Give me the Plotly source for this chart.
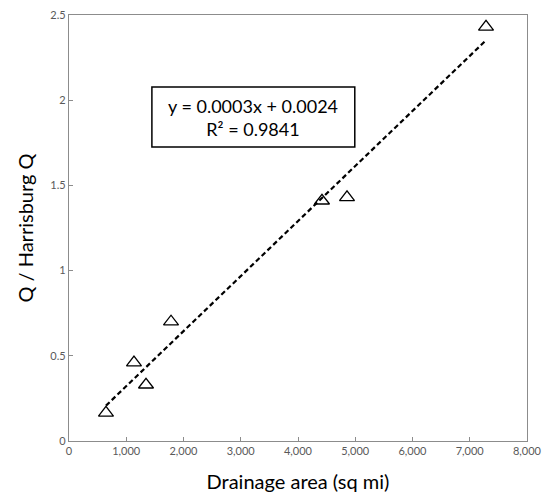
import numpy as np
import plotly.graph_objects as go

area = [646, 1135, 1345, 1782, 4419, 4856, 7284]
ratio = [0.165, 0.46, 0.33, 0.70, 1.41, 1.43, 2.43]
x_ticks = [0, 1000, 2000, 3000, 4000, 5000, 6000, 7000, 8000]
x_ticklabels = ["0", "1,000", "2,000", "3,000", "4,000", "5,000", "6,000", "7,000", "8,000"]
y_ticks = [0, 0.5, 1, 1.5, 2, 2.5]
y_ticklabels = ["0", "0.5", "1", "1.5", "2", "2.5"]
eq_text = "y = 0.0003x + 0.0024<br>R² = 0.9841"

slope, intercept = np.polyfit(area, ratio, 1)
fit_x = [min(area), max(area)]
fit_y = [slope * v + intercept for v in fit_x]

FONT = "Lato, Carlito, 'Open Sans', sans-serif"
fig = go.Figure()
fig.add_trace(go.Scatter(x=fit_x, y=fit_y, mode="lines",
                         line=dict(color="black", width=2.2, dash="5px,3px"),
                         hoverinfo="skip", showlegend=False))
fig.add_trace(go.Scatter(x=area, y=ratio, mode="markers",
                         marker=dict(symbol="triangle-up-open", size=13,
                                     color="black", line=dict(color="#222", width=1.3)),
                         showlegend=False))

axis_common = dict(showgrid=False, zeroline=False, showline=True, linecolor="#8c8c8c",
                   linewidth=1.2, mirror=True, ticks="inside", ticklen=4, automargin=False,
                   tickcolor="#8c8c8c", tickfont=dict(size=11, color="#595959", family=FONT))
fig.update_xaxes(range=[0, 8000], tickvals=x_ticks, ticktext=x_ticklabels,
                 title=dict(text="Drainage area (sq mi)", font=dict(size=20, color="#000", family=FONT),
                            standoff=18), **axis_common)
fig.update_yaxes(range=[0, 2.5], tickvals=y_ticks, ticktext=y_ticklabels,
                 title=dict(text="Q / Harrisburg Q", font=dict(size=20, color="#000", family=FONT),
                            standoff=11), **axis_common)

fig.add_shape(type="rect", xref="paper", yref="paper", x0=0.181, x1=0.624, y0=0.690, y1=0.831,
              line=dict(color="black", width=1.5), fillcolor="white", layer="above")
fig.add_annotation(xref="paper", yref="paper", x=0.402, y=0.759, xanchor="center", yanchor="middle",
                   text=eq_text, showarrow=False, align="center",
                   font=dict(size=18, color="#000", family=FONT))

fig.update_layout(width=542, height=496, margin=dict(l=69, r=15, t=15, b=55),
                  plot_bgcolor="white", paper_bgcolor="white", font=dict(family=FONT))
fig.write_html("out.html", config={"displayModeBar": False},
               post_script="document.body.style.margin='0';")
